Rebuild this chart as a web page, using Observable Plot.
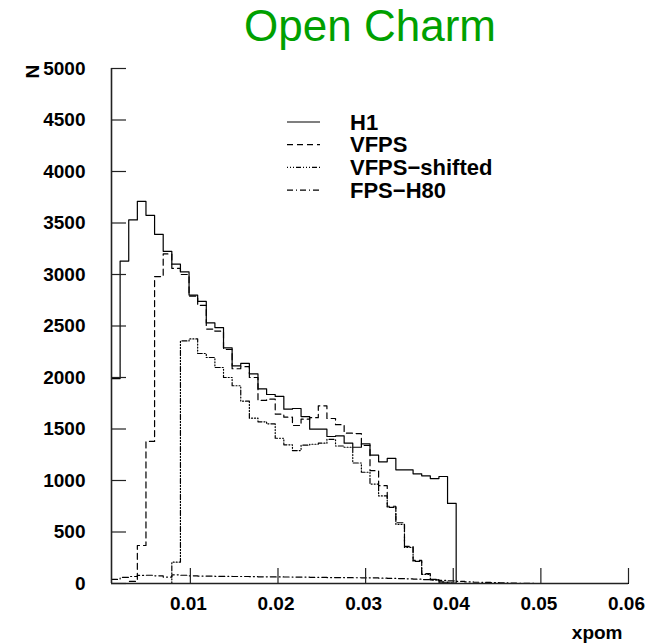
<!DOCTYPE html>
<html>
<head>
<meta charset="utf-8">
<script src="https://cdn.jsdelivr.net/npm/d3@7"></script>
<script src="https://cdn.jsdelivr.net/npm/@observablehq/plot@0.6"></script>
<style>
  body { margin: 0; background: #fff; }
</style>
</head>
<body>
<div id="chart"></div>
<script>
// histogram binning: 60 bins between xMin and xMax
const xMin = 0.001, xMax = 0.06, nBins = 60;

// counts per bin
const h1 = [1990, 3130, 3530, 3710, 3575, 3390, 3225, 3100, 3025, 2800,
  2740, 2530, 2485, 2287, 2112, 2138, 2036, 1890, 1835, 1816,
  1692, 1699, 1621, 1498, 1498, 1427, 1434, 1362, 1323, 1356,
  1246, 1181, 1214, 1104, 1104, 1065, 1045, 1019, 1039, 777,
  0, 0, 0, 0, 0, 0, 0, 0, 0, 0,
  0, 0, 0, 0, 0, 0, 0, 0, 0, 0];
const vfps = [0, 0, 20, 369, 1379, 2980, 3200, 3060, 3000, 2790,
  2700, 2470, 2450, 2272, 2085, 2105, 2000, 1777, 1790, 1645,
  1615, 1534, 1595, 1610, 1725, 1602, 1542, 1459, 1456, 1340,
  1095, 950, 750, 590, 360, 225, 95, 40, 15, 5,
  0, 0, 0, 0, 0, 0, 0, 0, 0, 0,
  0, 0, 0, 0, 0, 0, 0, 0, 0, 0];
const vfpsShifted = [0, 0, 0, 0, 0, 0, 0, 207, 2355, 2375,
  2233, 2194, 2097, 2000, 1920, 1770, 1605, 1570, 1550, 1410,
  1346, 1291, 1343, 1352, 1362, 1400, 1335, 1323, 1170, 1080,
  965, 850, 740, 575, 350, 215, 88, 35, 12, 5,
  0, 0, 0, 0, 0, 0, 0, 0, 0, 0,
  0, 0, 0, 0, 0, 0, 0, 0, 0, 0];
const fpsH80 = [40, 60, 68, 78, 80, 75, 62, 84, 80, 75,
  72, 72, 70, 70, 68, 68, 66, 65, 65, 64,
  63, 62, 62, 60, 60, 58, 58, 57, 56, 55,
  55, 52, 50, 48, 45, 42, 38, 35, 30, 25,
  20, 15, 12, 10, 8, 6, 4, 2, 1, 0,
  0, 0, 0, 0, 0, 0, 0, 0, 0, 0];

const seriesNames = ["H1", "VFPS", "VFPS\u2212shifted", "FPS\u2212H80"];
const xTicks = [0.01, 0.02, 0.03, 0.04, 0.05, 0.06];
const yTicks = [0, 500, 1000, 1500, 2000, 2500, 3000, 3500, 4000, 4500, 5000];

const dashes = [null, "6,4", "1,2,1,2,1,2,5,2", "6,3,1,3"];
const font = "Liberation Sans, Arial, Helvetica, sans-serif";

// step outline: one point per bin low edge + closing point at xMax
function histPoints(counts) {
  const w = (xMax - xMin) / nBins;
  const pts = counts.map((c, i) => ({x: xMin + i * w, y: c}));
  pts.push({x: xMax, y: counts[counts.length - 1]});
  return pts;
}

const allSeries = [h1, vfps, vfpsShifted, fpsH80];

const plot = Plot.plot({
  width: 656,
  height: 644,
  marginLeft: 111,
  marginRight: 28,
  marginTop: 68,
  marginBottom: 61,
  x: {domain: [xMin, xMax], axis: null},
  y: {domain: [0, 5000], axis: null},
  style: {background: "white", fontFamily: font},
  marks: [
    ...allSeries.map((s, i) =>
      Plot.line(histPoints(s), {
        x: "x",
        y: "y",
        curve: "step-after",
        stroke: "black",
        strokeWidth: 1.2,
        strokeDasharray: dashes[i],
      })
    ),
    // inward ticks
    Plot.tickY(yTicks, {y: (d) => d, insetRight: 517 - 15, stroke: "#222", strokeWidth: 1.2}),
    Plot.tickX(xTicks, {x: (d) => d, insetTop: 515 - 15, stroke: "#222", strokeWidth: 1.2}),
    // axis lines
    Plot.ruleX([xMin], {stroke: "#222", strokeWidth: 1.6}),
    Plot.ruleY([0], {stroke: "#222", strokeWidth: 1.6}),
    // tick labels
    Plot.text(yTicks, {
      y: (d) => d, text: (d) => String(d), frameAnchor: "left", dx: -26,
      textAnchor: "end", fontSize: 19, fontWeight: "bold",
    }),
    Plot.text(xTicks, {
      x: (d) => d, text: (d) => String(d), frameAnchor: "bottom", dy: 13, dx: -2,
      lineAnchor: "top", fontSize: 19, fontWeight: "bold",
    }),
    // axis titles
    Plot.text(["N"], {
      frameAnchor: "top-left", dx: -86, dy: 10, rotate: -90,
      fontSize: 19, fontWeight: "bold",
    }),
    Plot.text(["xpom"], {
      frameAnchor: "bottom-right", dx: -6, dy: 55, textAnchor: "end",
      lineAnchor: "bottom", fontSize: 19, fontWeight: "bold",
    }),
    // title
    Plot.text(["Open Charm"], {
      frameAnchor: "top", dy: -27.5, lineAnchor: "bottom",
      fontSize: 44, fill: "#00a000",
    }),
  ],
});

// legend box inside the frame
const svg = d3.select(plot);
const lg = svg.append("g").attr("font-family", font).attr("text-anchor", "start");
seriesNames.forEach((name, i) => {
  const y = 122 + 22.7 * i;
  lg.append("line")
    .attr("x1", 287).attr("x2", 320).attr("y1", y).attr("y2", y)
    .attr("stroke", "black").attr("stroke-width", 1.2)
    .attr("stroke-dasharray", dashes[i]);
  lg.append("text")
    .attr("x", 350).attr("y", y).attr("dy", "0.35em")
    .attr("text-anchor", "start")
    .attr("font-size", 22).attr("font-weight", "bold")
    .text(name);
});

document.getElementById("chart").append(plot);
</script>
</body>
</html>
